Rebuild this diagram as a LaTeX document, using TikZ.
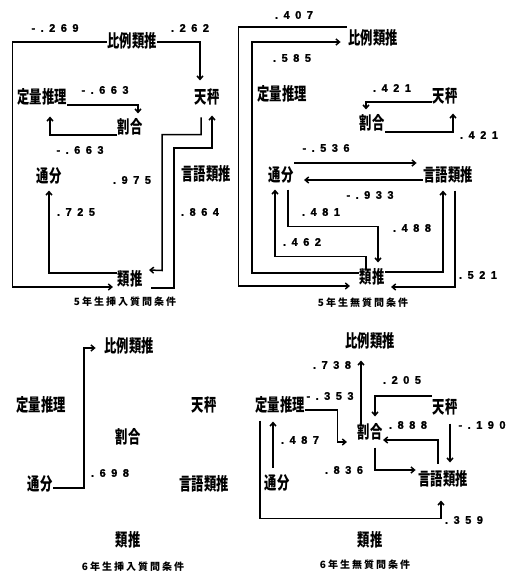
\documentclass[tikz,border=0pt]{standalone}
\usepackage{fontspec}
\newfontfamily\cjk[FakeStretch=0.7]{Noto Sans CJK JP}
\newfontfamily\cjkw[LetterSpace=20]{Noto Sans CJK JP}
\newfontfamily\numfont[LetterSpace=50,FakeBold=1.5]{Liberation Sans}
\usetikzlibrary{arrows.meta,calc}
\begin{document}
\begin{tikzpicture}[x=1pt,y=-1pt,>={Straight Barb[length=3.5pt,width=6pt]},line width=1.5pt,
  term/.style={font=\cjk\bfseries\fontsize{17.6}{17.6}\selectfont,inner sep=0pt,text height=13.6pt,text depth=1.9pt},
  coef/.style={font=\numfont\bfseries\fontsize{11}{11}\selectfont,inner sep=0pt},
  cond/.style={font=\cjkw\bfseries\fontsize{10}{10}\selectfont,inner sep=0pt}]
  \useasboundingbox (0,0) rectangle (506,575);
  % 5年生挿入質問条件
  \node[term](hiA) at (132,42){比例類推};
  \node[term](tenA) at (207,98){天秤};
  \node[term](teiA) at (42,98){定量推理};
  \node[term](wariA) at (130,128){割合};
  \node[term](tsuA) at (49,177){通分};
  \node[term](genA) at (206,175){言語類推};
  \node[term](ruiA) at (130,280){類推};
  \node[cond](condA) at (125,302){5年生挿入質問条件};
  \draw[->](hiA.west) -| ++(-94,245) -- ($(ruiA.west)+(-4,7)$);
  \draw[->](hiA.east) -| ($(tenA.north)+(-7,-9)$);
  \draw[->]($(teiA.east)+(0,7)$) -| ($(wariA.north)+(8,-6)$);
  \draw[->]($(wariA.west)+(0,7)$) -| ($(teiA.south)+(8,10)$);
  \draw[->]($(ruiA.west)+(0,-7)$) -| ($(tsuA.south)+(0,5)$);
  \draw[->]($(tenA.south)+(-6,11)$) -- ++(0,17) -| ++(-39,136) -- ($(ruiA.east)+(6,-10)$);
  \draw[->]($(ruiA.east)+(8,8)$) -| ++(23,-140) -| ($(tenA.south)+(5,9)$);
  \node[coef] at (55,28){-.269};\node[coef] at (190,28){.262};
  \node[coef] at (105,90){-.663};\node[coef] at (80,150){-.663};
  \node[coef] at (132,180){.975};\node[coef] at (76,212){.725};
  \node[coef] at (200,212){.864};
  % 5年生無質問条件
  \node[term](hiB) at (373,39){比例類推};
  \node[term](teiB) at (282,95){定量推理};
  \node[term](tenB) at (445,97){天秤};
  \node[term](wariB) at (372,124){割合};
  \node[term](tsuB) at (281,176){通分};
  \node[term](genB) at (448,176){言語類推};
  \node[term](ruiB) at (372,278){類推};
  \node[cond](condB) at (363,303){5年生無質問条件};
  \draw[->]($(hiB.west)+(-1,-12)$) -| ++(-108,259) -- ($(ruiB.west)+(-9,8)$);
  \draw[->]($(ruiB.west)+(0,-5)$) -| ++(-107,-231) -- ($(hiB.west)+(-7,3)$);
  \draw[->]($(tenB.west)+(0,5)$) -| ($(wariB.north)+(-6,-6)$);
  \draw[->]($(wariB.east)+(0,8)$) -| ($(tenB.south)+(8,8)$);
  \draw[->]($(tsuB.east)+(0,-13)$) -- ($(genB.west)+(-6,-13)$);
  \draw[->]($(genB.west)+(0,4)$) -- ($(tsuB.east)+(10,4)$);
  \draw[->]($(tsuB.south)+(7,5)$) -- ++(0,37) -| ($(ruiB.north)+(6,-7)$);
  \draw[->]($(ruiB.north)+(-6,0)$) -- ++(0,-13) -| ($(tsuB.south)+(-6,5)$);
  \draw[->]($(ruiB.east)+(0,-6)$) -| ($(genB.south)+(-5,6)$);
  \draw[->]($(genB.south)+(7,6)$) |- ($(ruiB.east)+(6,9)$);
  \node[coef] at (294,15){.407};\node[coef] at (292,58){.585};
  \node[coef] at (392,88){.421};\node[coef] at (479,135){.421};
  \node[coef] at (326,148){-.536};\node[coef] at (370,195){-.933};
  \node[coef] at (321,212){.481};\node[coef] at (302,242){.462};
  \node[coef] at (412,228){.488};\node[coef] at (478,275){.521};
  % 6年生挿入質問条件
  \node[term](hiC) at (129,347){比例類推};
  \node[term](teiC) at (41,406){定量推理};
  \node[term](tenC) at (204,406){天秤};
  \node[term](wariC) at (128,438){割合};
  \node[term](tsuC) at (40,485){通分};
  \node[term](genC) at (204,485){言語類推};
  \node[term](ruiC) at (128,541){類推};
  \node[cond](condC) at (133,567){6年生挿入質問条件};
  \draw[->]($(tsuC.east)+(0,3)$) -| ++(31,-140) -- ($(hiC.west)+(-8,1)$);
  \node[coef] at (110,473){.698};
  % 6年生無質問条件
  \node[term](hiD) at (370,342){比例類推};
  \node[term](teiD) at (280,406){定量推理};
  \node[term](tenD) at (445,408){天秤};
  \node[term](wariD) at (370,433){割合};
  \node[term](tsuD) at (277,484){通分};
  \node[term](genD) at (443,480){言語類推};
  \node[term](ruiD) at (370,541){類推};
  \node[cond](condD) at (365,565){6年生無質問条件};
  \draw[->]($(wariD.north)+(-9,0)$) -- ($(hiD.south)+(-9,10)$);
  \draw[->]($(tenD.west)+(0,-12)$) -| ($(wariD.north)+(5,-8)$);
  \draw[->]($(teiD.east)+(0,4)$) -| ++(32,32) -- ($(wariD.west)+(-10,9)$);
  \draw[->]($(genD.north)+(-5,-8)$) |- ($(wariD.east)+(0,7)$);
  \draw[->]($(wariD.south)+(5,6)$) |- ($(genD.west)+(-2,-10)$);
  \draw[->]($(tenD.south)+(5,7)$) -- ($(genD.north)+(7,-9)$);
  \draw[->]($(tsuD.north)+(-4,-8)$) -- ($(teiD.south)+(-7,7)$);
  \draw[->]($(teiD.south)+(-20,6)$) -- ++(0,98) -| ($(genD.south)+(-2,12)$);
  \node[coef] at (332,365){.738};\node[coef] at (402,380){.205};
  \node[coef] at (330,396){-.353};\node[coef] at (408,425){.888};
  \node[coef] at (482,425){-.190};\node[coef] at (300,440){.487};
  \node[coef] at (344,470){.836};\node[coef] at (464,520){.359};
\end{tikzpicture}
\end{document}
